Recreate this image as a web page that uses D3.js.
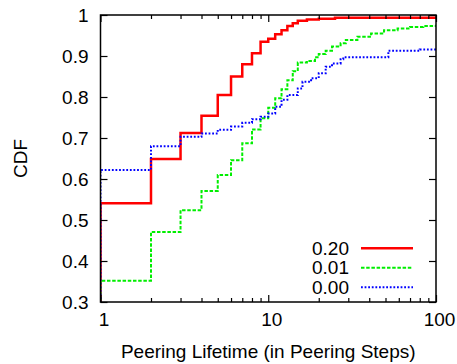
<!DOCTYPE html>
<html>
<head>
<meta charset="utf-8">
<script src="https://cdn.jsdelivr.net/npm/d3@7"></script>
<style>
  body { margin: 0; background: #fff; }
  svg text { font-family: "Liberation Sans", Arial, sans-serif; fill: #000; }
</style>
</head>
<body>
<svg id="chart"></svg>
<script>
// peering lifetime (steps) and CDF for each series
const redX   = [1, 2, 3, 4, 5, 6, 7, 8, 9, 10, 11, 12, 13, 14, 15, 17, 20, 25, 100];
const redY   = [0.541, 0.649, 0.712, 0.754, 0.805, 0.850, 0.880, 0.907, 0.935, 0.942, 0.953, 0.963, 0.973, 0.980, 0.986, 0.989, 0.991, 0.993, 0.994];

const greenX = [1, 2, 3, 4, 5, 6, 7, 8, 9, 10, 11, 12, 13, 14, 15, 17, 19, 20, 22, 24, 27, 29, 34, 41, 49, 59, 70, 84, 100];
const greenY = [0.352, 0.471, 0.524, 0.571, 0.610, 0.646, 0.687, 0.721, 0.748, 0.774, 0.797, 0.819, 0.841, 0.863, 0.884, 0.888, 0.897, 0.905, 0.913, 0.923, 0.931, 0.939, 0.947, 0.955, 0.963, 0.967, 0.971, 0.973, 0.976];

const blueX  = [1, 2, 3, 4, 5, 6, 7, 8, 9, 10, 11, 12, 13, 15, 16, 18, 20, 22, 24, 27, 28, 52, 80, 100];
const blueY  = [0.622, 0.680, 0.703, 0.711, 0.720, 0.728, 0.737, 0.746, 0.752, 0.760, 0.776, 0.793, 0.805, 0.821, 0.837, 0.846, 0.858, 0.874, 0.882, 0.892, 0.897, 0.913, 0.916, 0.919];

const seriesNames = ["0.20", "0.01", "0.00"];

const xMajorTicks = [1, 10, 100];
const xMinorTicks = [2, 3, 4, 5, 6, 7, 8, 9, 20, 30, 40, 50, 60, 70, 80, 90];
const yTicks = [0.3, 0.4, 0.5, 0.6, 0.7, 0.8, 0.9, 1];
const yTickLabels = ["0.3", "0.4", "0.5", "0.6", "0.7", "0.8", "0.9", "1"];

const config = {
    width: 457,
    height: 364,
    left: 100.5, right: 436, top: 15, bottom: 302,
    fontSize: '19px'
};

const svg = d3.select('#chart')
    .attr('width', config.width)
    .attr('height', config.height);

const x = d3.scaleLog().domain([1, 100]).range([config.left, config.right]);
const y = d3.scaleLinear().domain([0.3, 1]).range([config.bottom, config.top]);

const styles = [
    {color: '#ff0000', width: 2.5, dash: null},
    {color: '#00ee00', width: 2, dash: '3.5,1.7'},
    {color: '#0000ff', width: 2, dash: '1.8,1.8'}
];

// series: each starts from 0 at x=1 so the first riser is drawn
const series = [
    [redX, redY], [greenX, greenY], [blueX, blueY]
].map(([xs, ys]) => [{x: xs[0], y: 0}].concat(xs.map((v, i) => ({x: v, y: ys[i]}))));

svg.append('clipPath').attr('id', 'clip')
    .append('rect')
    .attr('x', config.left).attr('y', config.top)
    .attr('width', config.right - config.left)
    .attr('height', config.bottom - config.top);

const line = d3.line()
    .x(d => x(d.x))
    .y(d => y(d.y))
    .curve(d3.curveStepAfter);

const plot = svg.append('g').attr('clip-path', 'url(#clip)');
series.forEach((s, i) => {
    plot.append('path')
        .datum(s)
        .attr('d', line)
        .attr('fill', 'none')
        .attr('stroke', styles[i].color)
        .attr('stroke-width', styles[i].width)
        .attr('stroke-dasharray', styles[i].dash);
});

// axes, ticks pointing inward on all four sides
const axisStyle = g => {
    g.select('.domain').remove();
    g.selectAll('line').attr('stroke', '#000').attr('stroke-width', 1.2);
    g.selectAll('text').style('font-size', config.fontSize).attr('fill', '#000');
};

svg.append('g')
    .attr('transform', `translate(0,${config.bottom})`)
    .call(d3.axisBottom(x).tickValues(xMajorTicks).tickSize(-7).tickPadding(11)
        .tickFormat(d3.format('d')))
    .call(axisStyle)
    .selectAll('text').attr('dx', 3);
svg.append('g')
    .attr('transform', `translate(0,${config.bottom})`)
    .call(d3.axisBottom(x).tickValues(xMinorTicks).tickSize(-4).tickFormat(''))
    .call(axisStyle);
svg.append('g')
    .attr('transform', `translate(0,${config.top})`)
    .call(d3.axisTop(x).tickValues(xMajorTicks).tickSize(-7).tickFormat(''))
    .call(axisStyle);
svg.append('g')
    .attr('transform', `translate(0,${config.top})`)
    .call(d3.axisTop(x).tickValues(xMinorTicks).tickSize(-4).tickFormat(''))
    .call(axisStyle);
svg.append('g')
    .attr('transform', `translate(${config.left},0)`)
    .call(d3.axisLeft(y).tickValues(yTicks).tickSize(-7).tickPadding(12)
        .tickFormat((d, i) => yTickLabels[i]))
    .call(axisStyle);
svg.append('g')
    .attr('transform', `translate(${config.right},0)`)
    .call(d3.axisRight(y).tickValues(yTicks).tickSize(-7).tickFormat(''))
    .call(axisStyle);

// frame
svg.append('rect')
    .attr('x', config.left).attr('y', config.top)
    .attr('width', config.right - config.left)
    .attr('height', config.bottom - config.top)
    .attr('fill', 'none')
    .attr('stroke', '#000')
    .attr('stroke-width', 1.5);

// axis titles
svg.append('text')
    .attr('x', (config.left + config.right) / 2)
    .attr('y', 358)
    .attr('text-anchor', 'middle')
    .style('font-size', config.fontSize)
    .text('Peering Lifetime (in Peering Steps)');
svg.append('text')
    .attr('transform', `translate(27,${(config.top + config.bottom) / 2}) rotate(-90)`)
    .attr('text-anchor', 'middle')
    .style('font-size', config.fontSize)
    .text('CDF');

// legend
const legend = svg.append('g');
seriesNames.forEach((name, i) => {
    const ly = 248.3 + i * 19.5;
    legend.append('text')
        .attr('x', 349)
        .attr('y', ly)
        .attr('dy', '0.35em')
        .attr('text-anchor', 'end')
        .style('font-size', config.fontSize)
        .text(name);
    legend.append('line')
        .attr('x1', 361).attr('x2', 413)
        .attr('y1', ly).attr('y2', ly)
        .attr('stroke', styles[i].color)
        .attr('stroke-width', styles[i].width)
        .attr('stroke-dasharray', styles[i].dash);
});
</script>
</body>
</html>
